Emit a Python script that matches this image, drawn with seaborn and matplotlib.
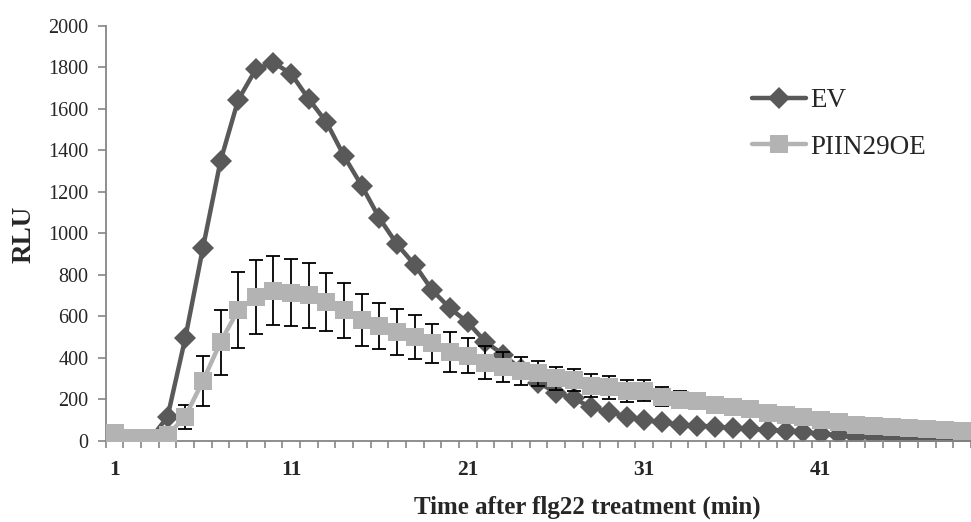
import matplotlib
matplotlib.use("Agg")
import numpy as np
import pandas as pd
import matplotlib.pyplot as plt
import seaborn as sns

# values
minutes = list(range(1, 50))
ev = [10, 5, 5, 115, 493, 927, 1348, 1642, 1790, 1822, 1768, 1646, 1535, 1371, 1228,
      1072, 946, 847, 724, 638, 570, 477, 415, 345, 280, 232, 204, 160, 140, 116, 100,
      88, 76, 72, 68, 62, 58, 52, 48, 42, 32, 25, 20, 16, 12, 10, 8, 6, 5]
piin = [36, 12, 12, 27, 116, 287, 475, 630, 692, 723, 713, 700, 668, 628, 583, 554,
        524, 500, 469, 429, 410, 376, 357, 337, 325, 301, 292, 264, 257, 241, 241, 212,
        197, 191, 171, 161, 154, 132, 124, 113, 100, 92, 76, 69, 64, 60, 55, 52, 48]
piin_err = [8, 6, 6, 10, 58, 121, 157, 181, 179, 166, 162, 156, 141, 134, 125, 111,
            111, 106, 93, 96, 86, 80, 72, 67, 60, 55, 52, 55, 55, 53, 50, 45, 40, 38,
            35, 33, 30, 28, 26, 24, 22, 20, 18, 16, 15, 14, 13, 12, 11]
xtick_labels = [1, 11, 21, 31, 41]

ev_color = "#595959"
piin_color = "#b3b3b3"
axis_color = "#868686"

sns.set_style("white")
plt.rcParams["font.family"] = ["Liberation Serif", "DejaVu Serif"]

df = pd.DataFrame({
    "minute": minutes * 2,
    "RLU": ev + piin,
    "line": ["EV"] * len(ev) + ["PIIN29OE"] * len(piin),
})

fig = plt.figure(figsize=(9.71, 5.22), dpi=100)
ax = fig.add_axes([0.1089, 0.1558, 0.8911, 0.795])

sns.lineplot(data=df[df["line"] == "EV"], x="minute", y="RLU", color=ev_color,
             marker="D", markersize=11.5, markeredgewidth=0, linewidth=3.2,
             errorbar=None, label="EV", ax=ax, zorder=2)
ax.errorbar(minutes, piin, yerr=piin_err, fmt="none", ecolor="black",
            elinewidth=1.3, capsize=5, capthick=1.3, zorder=2.5)
sns.lineplot(data=df[df["line"] == "PIIN29OE"], x="minute", y="RLU", color=piin_color,
             marker="s", markersize=13, markeredgewidth=0, linewidth=3.2,
             errorbar=None, label="PIIN29OE", ax=ax, zorder=3)

ax.set_xlim(0.5, 49.39)
ax.set_ylim(0, 2000)
ax.set_yticks(np.arange(0, 2001, 200))
ax.set_xticks(xtick_labels)
ax.set_xticks(np.arange(0.5, 50, 1), minor=True)
ax.set_xticklabels([str(v) for v in xtick_labels], fontweight="bold")

sns.despine(ax=ax)
for side in ["left", "bottom"]:
    ax.spines[side].set_color(axis_color)
    ax.spines[side].set_linewidth(1.3)

ax.tick_params(axis="y", left=True, direction="out", length=6, width=1.2,
               color=axis_color, labelsize=14.5, pad=6.5)
ax.tick_params(axis="x", which="major", bottom=True, length=0, labelsize=15.5, pad=14)
ax.tick_params(axis="x", which="minor", bottom=True, direction="out", length=5,
               width=1.2, color=axis_color)

ax.set_xlabel("")
ax.set_ylabel("")
fig.text(24 / 971, 1 - 234 / 522, "RLU", rotation=90, ha="center", va="center",
         fontsize=19.5, fontweight="bold")
fig.text(587 / 971, 1 - 507 / 522, "Time after flg22 treatment (min)", ha="center",
         va="center", fontsize=18, fontweight="bold")

ax.legend(loc="upper left", bbox_to_anchor=(752 / 971, 1 - 88 / 522),
          bbox_transform=fig.transFigure, frameon=False, fontsize=19.5,
          handlelength=2.0, handletextpad=0.15, labelspacing=0.8,
          borderpad=0, borderaxespad=0)

fig.savefig("out.png", dpi=100)
